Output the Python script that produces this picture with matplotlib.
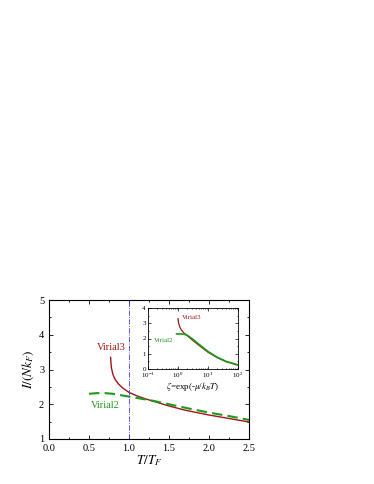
import numpy as np
import matplotlib
matplotlib.use('Agg')
import matplotlib.pyplot as plt
from matplotlib.ticker import AutoMinorLocator, LogLocator, NullFormatter

plt.rcParams['font.family'] = ['Liberation Serif', 'DejaVu Serif']
plt.rcParams['mathtext.fontset'] = 'stix'

# main panel data
t3 = [0.77, 0.78, 0.80, 0.83, 0.87, 0.92, 1.0, 1.1, 1.2, 1.3, 1.5, 1.7, 2.0, 2.25, 2.5]
v3 = [3.35, 3.05, 2.85, 2.70, 2.58, 2.47, 2.34, 2.24, 2.16, 2.09, 1.95, 1.83, 1.69, 1.59, 1.49]
t2 = [0.5, 0.6, 0.7, 0.8, 0.9, 1.0, 1.1, 1.2, 1.3, 1.5, 1.7, 2.0, 2.25, 2.5]
v2 = [2.30, 2.32, 2.32, 2.30, 2.26, 2.22, 2.18, 2.14, 2.10, 2.00, 1.90, 1.76, 1.66, 1.55]

# inset data
z3 = [1.0, 1.05, 1.15, 1.3, 1.6, 2.0, 3.0, 5.0, 10, 20, 40, 100]
w3 = [3.30, 3.00, 2.75, 2.55, 2.35, 2.20, 1.90, 1.55, 1.10, 0.75, 0.48, 0.25]
z2 = [0.9, 1.2, 1.6, 2.0, 3.0, 5.0, 10, 20, 40, 100]
w2 = [2.30, 2.30, 2.28, 2.22, 1.98, 1.62, 1.15, 0.78, 0.50, 0.27]

red = '#a31515'
green = '#1c9a1c'

fig = plt.figure(figsize=(3.74, 4.84), dpi=100)
ax = fig.add_axes([49/374, 1-439/484, 200/374, 139/484])
ax.plot(t3, v3, color=red, lw=1.0)
ax.plot(t2, v2, color=green, lw=1.5, ls=(0, (5, 2.5)))
ax.axvline(1.0, color='#3b3bff', lw=0.6, ls='-.')
ax.text(0.6, 3.55, 'Virial3', color=red, fontsize=7.5)
ax.text(0.52, 1.88, 'Virial2', color=green, fontsize=7.5)
ax.set_xlim(0, 2.5)
ax.set_ylim(1, 5)
ax.set_xticks([0.0, 0.5, 1.0, 1.5, 2.0, 2.5])
ax.set_yticks([1, 2, 3, 4, 5])
ax.xaxis.set_minor_locator(AutoMinorLocator(2))
ax.yaxis.set_minor_locator(AutoMinorLocator(2))
ax.tick_params(which='both', direction='in', top=True, right=True, labelsize=7.5, width=0.6)
ax.tick_params(which='major', length=3)
ax.tick_params(which='minor', length=1.5)
for s in ax.spines.values():
    s.set_linewidth(0.8)
ax.set_xlabel('$T/T_F$', fontsize=9.5, labelpad=0)
ax.set_ylabel('$I/(Nk_F)$', fontsize=9.5, labelpad=2)

ins = fig.add_axes([148/374, 1-369/484, 90/374, 61/484])
ins.plot(z3, w3, color=red, lw=0.9)
ins.plot(z2, w2, color=green, lw=1.2)
ins.text(1.4, 3.25, 'Virial3', color=red, fontsize=5)
ins.text(0.16, 1.75, 'Virial2', color=green, fontsize=5)
ins.set_xscale('log')
ins.set_xlim(0.1, 100)
ins.set_ylim(0, 4)
ins.set_yticks([0, 1, 2, 3, 4])
ins.yaxis.set_minor_locator(AutoMinorLocator(2))
ins.xaxis.set_minor_locator(LogLocator(subs=np.arange(2, 10)))
ins.xaxis.set_minor_formatter(NullFormatter())
ins.tick_params(which='both', direction='in', top=True, right=True, labelsize=5, width=0.5, pad=1.5)
ins.tick_params(which='major', length=2)
ins.tick_params(which='minor', length=1)
for s in ins.spines.values():
    s.set_linewidth(0.6)
ins.set_xlabel(r'$\zeta$=exp(-$\mu$/$k_B T$)', fontsize=6.5, labelpad=0)

fig.savefig('out.png', dpi=100)
